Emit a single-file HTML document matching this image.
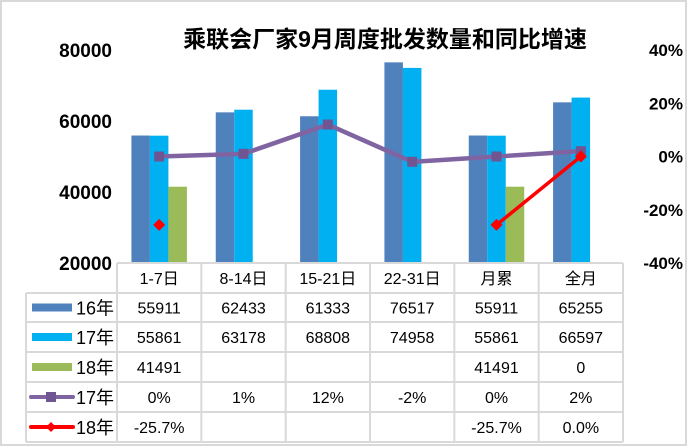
<!DOCTYPE html>
<html><head><meta charset="utf-8"><style>
html,body{margin:0;padding:0;background:#fff;}
svg{display:block;font-family:"Liberation Sans","Noto Sans CJK SC",sans-serif;}
</style></head><body>
<svg id="c" width="687" height="446" viewBox="0 0 687 446"></svg>
<script>
const categories=["1-7日","8-14日","15-21日","22-31日","月累","全月"];
const s16=[55911,62433,61333,76517,55911,65255];
const s17=[55861,63178,68808,74958,55861,66597];
const s18=[41491,null,null,null,41491,0];
const yoy17=[0,1,12,-2,0,2];
const yoy18=[-25.7,null,null,null,-25.7,0.0];
const yoy17Labels=["0%","1%","12%","-2%","0%","2%"];
const yoy18Labels=["-25.7%","","","","-25.7%","0.0%"];
const leftTicks=[20000,40000,60000,80000];
const rightTicks=[-40,-20,0,20,40];
const rightTickLabels=["-40%","-20%","0%","20%","40%"];

const NS="http://www.w3.org/2000/svg";
const svg=document.getElementById('c');
function el(tag,attrs,parent){const e=document.createElementNS(NS,tag);for(const k in attrs)e.setAttribute(k,attrs[k]);(parent||svg).appendChild(e);return e;}
const X0=117,X1=623,colW=(X1-X0)/categories.length;
const Ytop=50,Ybot=263;
const yL=v=>Ybot-(v-20000)/(80000-20000)*(Ybot-Ytop);
const yR=v=>Ybot-(v+40)/80*(Ybot-Ytop);
const cx=i=>X0+colW*(i+0.5);
const bw=18.5;

// outer border
const ob=el('rect',{x:1,y:1,width:685,height:444,fill:'none',stroke:'#d9d9d9','stroke-width':2});



// title
const t=el('text',{x:385,y:47,'text-anchor':'middle','font-size':23,'font-weight':'bold',fill:'#000'});
t.textContent="乘联会厂家9月周度批发数量和同比增速";



// left ticks
leftTicks.forEach(v=>{const tx=el('text',{x:122-10,y:yL(v)+7,'text-anchor':'end','font-size':19,'font-weight':'bold'});tx.textContent=v;

});
rightTicks.forEach((v,i)=>{const tx=el('text',{x:683,y:yR(v)+6,'text-anchor':'end','font-size':17,'font-weight':'bold'});tx.textContent=rightTickLabels[i];

});

// bars
const series=[[s16,'#4F81BD','bar-16'],[s17,'#00B0F0','bar-17'],[s18,'#9BBB59','bar-18']];
series.forEach(([arr,col,name],si)=>{arr.forEach((v,i)=>{if(v==null||v<=20000)return;
const x=cx(i)-1.5*bw+si*bw;const y=yL(v);
const r=el('rect',{x:x,y:y,width:bw,height:Ybot-y,fill:col});

});});

// purple line
const pts=yoy17.map((v,i)=>cx(i)+','+yR(v)).join(' ');
const pl=el('polyline',{points:pts,fill:'none',stroke:'#8064A2','stroke-width':4.5,'stroke-linejoin':'round'});


yoy17.forEach((v,i)=>{const m=el('rect',{x:cx(i)-5,y:yR(v)-5,width:10,height:10,fill:'#6F5591'});

});

// red line segments
for(let i=0;i<yoy18.length-1;i++){if(yoy18[i]!=null&&yoy18[i+1]!=null){const ln=el('line',{x1:cx(i),y1:yR(yoy18[i]),x2:cx(i+1),y2:yR(yoy18[i+1]),stroke:'#FF0000','stroke-width':3.5});

}}
yoy18.forEach((v,i)=>{if(v==null)return;const x=cx(i),y=yR(v);const m=el('polygon',{points:`${x},${y-6} ${x+6},${y} ${x},${y+6} ${x-6},${y}`,fill:'#FF0000'});

});

// table
const rowY=[263,293,322,352,382,412,442];
const g=el('g',{stroke:'#d9d9d9','stroke-width':2});


el('line',{x1:X0,y1:263,x2:X1,y2:263},g);
for(let r=1;r<rowY.length;r++)el('line',{x1:26,y1:rowY[r],x2:X1,y2:rowY[r]},g);
for(let c=0;c<=categories.length;c++)el('line',{x1:X0+c*colW,y1:263,x2:X0+c*colW,y2:442},g);
el('line',{x1:26,y1:293,x2:26,y2:442},g);

function cell(txt,i,r,name){const tx=el('text',{x:cx(i),y:(rowY[r]+rowY[r+1])/2+6,'text-anchor':'middle','font-size':16});tx.textContent=txt;

}
categories.forEach((c,i)=>cell(c,i,0,'category-label'));
s16.forEach((v,i)=>cell(v,i,1,'value-16'));
s17.forEach((v,i)=>cell(v,i,2,'value-17'));
s18.forEach((v,i)=>{if(v!=null)cell(v,i,3,'value-18');});
yoy17Labels.forEach((v,i)=>cell(v,i,4,'yoy-17-label'));
yoy18Labels.forEach((v,i)=>{if(v)cell(v,i,5,'yoy-18-label');});

// legend
const leg=[['16年','bar','#4F81BD'],['17年','bar','#00B0F0'],['18年','bar','#9BBB59'],['17年','sq','#8064A2'],['18年','dia','#FF0000']];
leg.forEach(([lab,type,col],k)=>{const ym=(rowY[k+1]+rowY[k+2])/2;
if(type==='bar'){const r=el('rect',{x:32,y:ym-4,width:40,height:8,fill:col});}
else{const l=el('line',{x1:31,y1:ym,x2:73,y2:ym,stroke:col,'stroke-width':4,'stroke-linecap':'round'});
if(type==='sq')el('rect',{x:46,y:ym-5,width:10,height:10,fill:'#6F5591'});else el('polygon',{points:`51,${ym-5} 56,${ym} 51,${ym+5} 46,${ym}`,fill:col});}
const tx=el('text',{x:76,y:ym+7,'font-size':18});tx.textContent=lab;

});
</script>
</body></html>
